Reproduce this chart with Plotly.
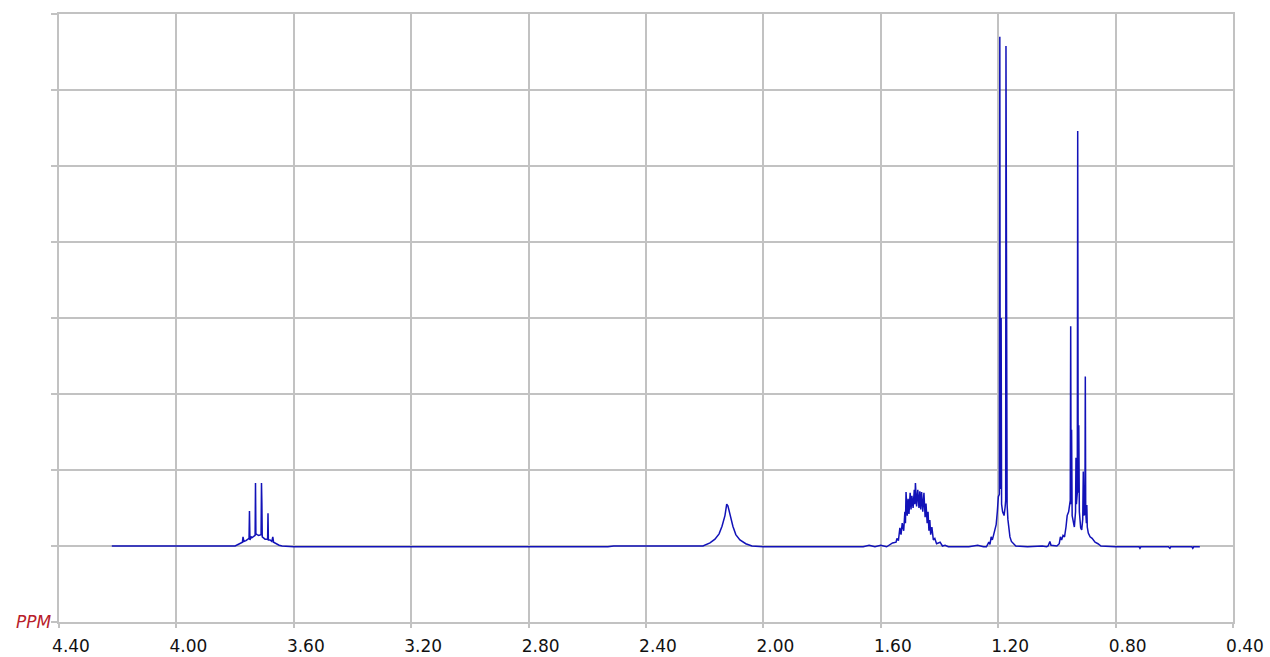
import plotly.graph_objects as go

# 1H NMR trace, chemical shift (ppm) vs. intensity, listed high field last.
# Each region is a list of traced vertices.
lead_ppm = [4.220, 3.810]
lead_int = [0.00, 0.00]

ch_ppm = [3.800, 3.790, 3.780, 3.775, 3.773, 3.770, 3.763, 3.7525, 3.7510, 3.7495,
          3.745, 3.742, 3.7318, 3.7305, 3.7292, 3.725, 3.720, 3.7115, 3.7101, 3.7088,
          3.7075, 3.703, 3.698, 3.6892, 3.6879, 3.6866, 3.681, 3.675, 3.6715, 3.669,
          3.661, 3.650, 3.640]
ch_int = [0.00, 0.02, 0.04, 0.05, 0.12, 0.06, 0.07, 0.10, 0.46, 0.08,
          0.12, 0.11, 0.14, 0.83, 0.16, 0.15, 0.14, 0.15, 0.83, 0.57,
          0.12, 0.10, 0.09, 0.09, 0.43, 0.08, 0.08, 0.06, 0.12, 0.05,
          0.03, 0.01, 0.00]

mid_ppm = [3.600, 2.530, 2.510, 2.250]
mid_int = [-0.01, -0.01, 0.00, 0.00]

oh_ppm = [2.206, 2.182, 2.165, 2.151, 2.141, 2.131, 2.125, 2.121, 2.114, 2.104,
          2.094, 2.080, 2.060, 2.039]
oh_int = [0.00, 0.04, 0.09, 0.16, 0.26, 0.40, 0.55, 0.53, 0.42, 0.26,
          0.15, 0.08, 0.03, 0.00]

gap1_ppm = [2.000, 1.800, 1.660, 1.640, 1.620, 1.600]
gap1_int = [-0.01, -0.01, -0.01, 0.01, -0.01, 0.01]

ch2_ppm = [1.580, 1.560, 1.548, 1.545, 1.540, 1.535, 1.531, 1.527, 1.522, 1.518,
           1.516, 1.514, 1.510, 1.507, 1.504, 1.500, 1.497, 1.494, 1.490, 1.486,
           1.484, 1.482, 1.478, 1.474, 1.470, 1.467, 1.464, 1.461, 1.457, 1.453,
           1.449, 1.446, 1.442, 1.439, 1.436, 1.433, 1.430, 1.426, 1.421, 1.416,
           1.410, 1.398, 1.390, 1.381]
ch2_int = [-0.01, 0.04, 0.05, 0.10, 0.07, 0.24, 0.15, 0.30, 0.20, 0.45,
           0.30, 0.71, 0.40, 0.62, 0.42, 0.70, 0.48, 0.66, 0.50, 0.74,
           0.55, 0.83, 0.52, 0.74, 0.50, 0.72, 0.48, 0.71, 0.45, 0.70,
           0.38, 0.56, 0.30, 0.45, 0.20, 0.34, 0.15, 0.25, 0.08, 0.10,
           0.03, 0.05, 0.00, 0.01]

gap2_ppm = [1.370, 1.300, 1.270, 1.250]
gap2_int = [-0.01, -0.01, 0.01, -0.01]

ch3d_ppm = [1.240, 1.232, 1.228, 1.224, 1.220, 1.216, 1.212, 1.207, 1.203, 1.1995,
            1.1960, 1.1945, 1.1930, 1.1915, 1.1900, 1.1885, 1.1850, 1.1800, 1.1765, 1.1745,
            1.1735, 1.1722, 1.1710, 1.1697, 1.1670, 1.1650, 1.160, 1.155, 1.148, 1.140]
ch3d_int = [-0.01, 0.05, 0.02, 0.12, 0.08, 0.14, 0.20, 0.28, 0.45, 0.65,
            0.68, 6.70, 0.75, 0.90, 3.00, 0.55, 0.45, 0.40, 0.51, 0.60,
            6.58, 0.95, 5.58, 0.55, 0.35, 0.26, 0.12, 0.06, 0.03, 0.00]

gap3_ppm = [1.100, 1.050, 1.035]
gap3_int = [-0.01, 0.00, -0.01]

ch3t_ppm = [1.030, 1.024, 1.020, 1.000, 0.992, 0.988, 0.984, 0.979, 0.974, 0.969,
            0.965, 0.960, 0.9545, 0.9530, 0.9515, 0.9500, 0.9480, 0.944, 0.9405, 0.9365,
            0.9350, 0.9335, 0.9305, 0.9291, 0.9275, 0.9255, 0.9235, 0.9190, 0.9155, 0.9120,
            0.9101, 0.9080, 0.9045, 0.9032, 0.9018, 0.8995, 0.8981, 0.8965, 0.893, 0.887,
            0.880, 0.870, 0.860, 0.850]
ch3t_int = [0.00, 0.06, 0.01, 0.00, 0.03, 0.12, 0.08, 0.14, 0.12, 0.25,
            0.40, 0.45, 0.60, 2.89, 0.55, 1.53, 0.40, 0.28, 0.25, 0.45,
            1.16, 0.55, 0.70, 5.46, 0.70, 1.59, 0.45, 0.24, 0.21, 0.35,
            0.98, 0.40, 0.45, 2.23, 0.45, 0.30, 0.54, 0.25, 0.17, 0.12,
            0.10, 0.05, 0.03, 0.00]

tail_ppm = [0.800, 0.720, 0.717, 0.714, 0.620, 0.615, 0.612, 0.540, 0.537, 0.534, 0.513]
tail_int = [-0.01, -0.01, -0.03, -0.01, -0.01, -0.03, -0.01, -0.01, -0.03, -0.01, -0.01]

x_ticks = [4.40, 4.00, 3.60, 3.20, 2.80, 2.40, 2.00, 1.60, 1.20, 0.80, 0.40]
x_tick_text = [f"{v:.2f}" for v in x_ticks]

shift = (lead_ppm + ch_ppm + mid_ppm + oh_ppm + gap1_ppm + ch2_ppm + gap2_ppm
         + ch3d_ppm + gap3_ppm + ch3t_ppm + tail_ppm)
intensity = (lead_int + ch_int + mid_int + oh_int + gap1_int + ch2_int + gap2_int
             + ch3d_int + gap3_int + ch3t_int + tail_int)

grid = "#c2c2c2"

fig = go.Figure(
    go.Scatter(
        x=shift,
        y=intensity,
        mode="lines",
        line=dict(color="#1212b8", width=1.5),
        hoverinfo="skip",
    )
)

fig.update_layout(
    width=1270,
    height=657,
    margin=dict(l=59, r=37, t=14, b=35, autoexpand=False),
    paper_bgcolor="white",
    plot_bgcolor="white",
    showlegend=False,
    font=dict(family="DejaVu Sans", color="black"),
)

fig.update_xaxes(
    range=[4.40, 0.40],
    automargin=False,
    tickmode="array",
    tickvals=x_ticks,
    ticktext=x_tick_text,
    tickfont=dict(family="DejaVu Sans", size=17, color="#111111"),
    ticks="outside",
    ticklen=4,
    tickcolor=grid,
    tickwidth=1.5,
    ticklabelshift=-12,
    ticklabelstandoff=4,
    showgrid=True,
    gridcolor=grid,
    gridwidth=1.5,
    showline=True,
    linecolor=grid,
    linewidth=1.5,
    mirror=True,
    zeroline=False,
)

fig.update_yaxes(
    range=[-1, 7],
    automargin=False,
    dtick=1,
    showticklabels=False,
    ticks="outside",
    ticklen=6,
    tickcolor=grid,
    tickwidth=1.5,
    showgrid=True,
    gridcolor=grid,
    gridwidth=1.5,
    showline=True,
    linecolor=grid,
    linewidth=1.5,
    mirror=True,
    zeroline=False,
)

fig.add_annotation(
    text="<i>PPM</i>",
    xref="paper", yref="paper",
    x=0, y=0,
    xanchor="right", yanchor="middle",
    xshift=-5,
    showarrow=False,
    font=dict(family="DejaVu Sans", size=17, color="#b8202a"),
)

fig.write_html("out.html")
